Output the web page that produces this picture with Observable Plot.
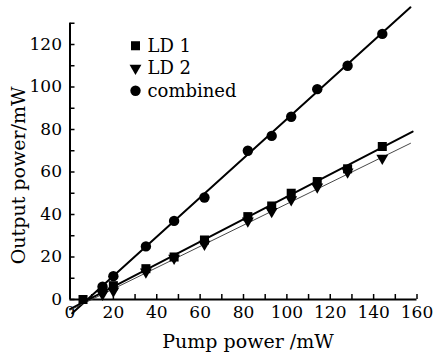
<!DOCTYPE html>
<html><head><meta charset="utf-8">
<script src="https://cdn.jsdelivr.net/npm/d3@7"></script>
<script src="https://cdn.jsdelivr.net/npm/@observablehq/plot@0.6"></script>
<style>
body{margin:0;background:#fff}
#chart svg, #chart svg text { font-family: "DejaVu Serif", "Liberation Serif", serif !important; }
</style>
</head><body><div id="chart"></div>
<script>
// measured data (pump power in mW, output power in mW)
const pumpCombined = [15, 20, 35, 48, 62, 82, 93, 102, 114, 128, 144];
const outCombined  = [6, 11, 25, 37, 48, 70, 77, 86, 99, 110, 125];
const pumpLD1 = [6, 15, 20, 35, 48, 62, 82, 93, 102, 114, 128, 144];
const outLD1  = [0, 5, 6.5, 14.5, 20, 28, 39, 44, 50, 55.5, 61.5, 72];
const pumpLD2 = [15, 20, 35, 48, 62, 82, 93, 102, 114, 128, 144];
const outLD2  = [2.5, 4, 13, 19.5, 26, 37, 41.5, 47, 53, 60, 66.5];
// fitted lines (endpoints)
const fitCombinedX = [1, 157];
const fitCombinedY = [-6.5, 137.5];
const fitLD1X = [0, 158];
const fitLD1Y = [-4.5, 79];
const fitLD2X = [0, 157];
const fitLD2Y = [-5, 73.5];
// axes
const xMajor = [0, 20, 40, 60, 80, 100, 120, 140, 160];
const xAll = d3.range(0, 161, 10);
const yMajor = [0, 20, 40, 60, 80, 100, 120];
const yAll = d3.range(0, 131, 10);
const legendNames = ["LD 1", "LD 2", "combined"];
const legendSymbols = ["square", "triangle", "circle"];

const FONT = "'DejaVu Serif', 'Liberation Serif', serif";
const pts = (xs, ys) => xs.map((x, i) => ({x, y: ys[i]}));

const symStyle = {
  square: {symbol: "square", r: 5.1},
  triangle: {symbol: "triangle", r: 4.4, rotate: 180},
  circle: {symbol: "circle", r: 5.2}
};

const legendMarks = legendNames.flatMap((name, i) => [
  Plot.dot([0], {frameAnchor: "top-left", dx: 65.5, dy: 22.5 + i * 22.5, fill: "black", ...symStyle[legendSymbols[i]]}),
  Plot.text([name], {frameAnchor: "top-left", dx: 77.5, dy: 22.5 + i * 22.5, text: d => d, textAnchor: "start", lineAnchor: "middle", fontSize: 18, fontFamily: FONT})
]);

const chart = Plot.plot({
  width: 435, height: 354,
  marginLeft: 69.5, marginRight: 18.5, marginTop: 22.75, marginBottom: 55,
  style: {fontFamily: FONT, fontSize: "17px", background: "white", color: "black", overflow: "visible"},
  x: {domain: [0, 160], label: null},
  y: {domain: [0, 130], label: null},
  marks: [
    Plot.axisX({ticks: xAll, tickSize: -5, tickFormat: () => "", label: null, strokeWidth: 1.5}),
    Plot.axisX({ticks: xMajor, tickSize: 0, tickPadding: 6, tickFormat: d => d, label: null, fontFamily: FONT, fontSize: 17}),
    Plot.axisY({ticks: yAll, tickSize: -5, tickFormat: () => "", label: null, strokeWidth: 1.5}),
    Plot.axisY({ticks: yMajor, tickSize: 0, tickPadding: 8, tickFormat: d => d, label: null, fontFamily: FONT, fontSize: 17}),
    Plot.ruleX([0], {stroke: "black", strokeWidth: 2}),
    Plot.ruleY([0], {stroke: "black", strokeWidth: 2}),
    Plot.line(pts(fitCombinedX, fitCombinedY), {x: "x", y: "y", stroke: "black", strokeWidth: 2}),
    Plot.line(pts(fitLD1X, fitLD1Y), {x: "x", y: "y", stroke: "black", strokeWidth: 2}),
    Plot.line(pts(fitLD2X, fitLD2Y), {x: "x", y: "y", stroke: "#333", strokeWidth: 0.9}),
    Plot.dot(pts(pumpLD2, outLD2), {x: "x", y: "y", fill: "black", ...symStyle.triangle}),
    Plot.dot(pts(pumpLD1, outLD1), {x: "x", y: "y", fill: "black", ...symStyle.square}),
    Plot.dot(pts(pumpCombined, outCombined), {x: "x", y: "y", fill: "black", ...symStyle.circle}),
    Plot.text(["Pump power /mW"], {frameAnchor: "bottom", dx: 4.5, dy: 48, text: d => d, textAnchor: "middle", lineAnchor: "bottom", fontSize: 19, fontFamily: FONT}),
    Plot.text(["Output power/mW"], {frameAnchor: "left", dx: -51, dy: 14, text: d => d, rotate: -90, textAnchor: "middle", lineAnchor: "middle", fontSize: 19, fontFamily: FONT}),
    ...legendMarks
  ]
});
document.getElementById("chart").append(chart);
</script>
</body></html>
